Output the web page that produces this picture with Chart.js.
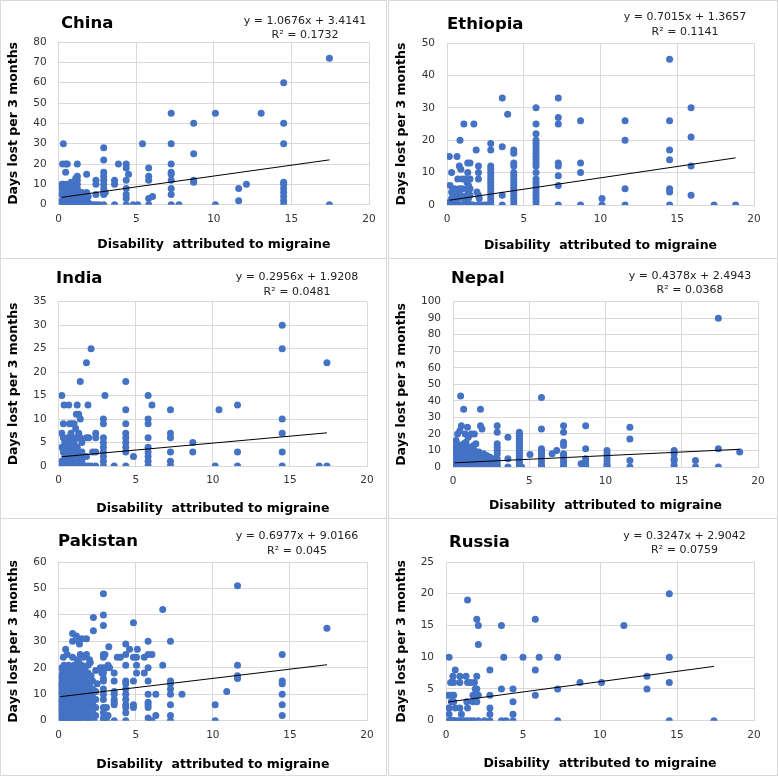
<!DOCTYPE html>
<html>
<head>
<meta charset="utf-8">
<script src="https://cdn.jsdelivr.net/npm/chart.js@4.4.1/dist/chart.umd.min.js"></script>
<style>
  html, body { margin: 0; padding: 0; background: #fff; }
  #wrap { position: relative; width: 778px; height: 776px; }
  .panel { position: absolute; box-sizing: border-box; border: 1px solid #d9d9d9; background: #fff; }
  .panel canvas { position: absolute; left: 0; top: 0; }
</style>
</head>
<body>
<div id="wrap"></div>
<script>
// ---- data: [disability score, days lost] ----
var china = [
  [0.3,30],[0.25,20],[0.45,20],[0.55,20],[1.2,20],[0.45,16],[1.8,15],
  [0.2,10],[0.3,10],[0.5,10],[0.7,10],[0.9,10],[1.0,10],[1.2,10],[1.2,12],[1.2,14],[1.1,13],[0.8,11],
  [0.2,8],[0.3,7],[0.4,8],[0.5,6],[0.6,8],[0.7,7],[0.8,6],[0.9,8],[1.0,7],[1.1,6],[1.2,8],
  [0.25,9],[0.35,9],[0.45,7],[0.55,9],[0.65,6],[0.75,9],[0.85,7],[0.95,9],[1.05,8],[1.15,9],
  [0.2,5],[0.3,4],[0.4,5],[0.5,3],[0.6,5],[0.7,4],[0.8,3],[0.9,5],[1.0,4],[1.1,3],[1.2,5],[1.3,6],[1.4,5],[1.5,6],[1.6,4],[1.7,5],[1.8,6],[1.9,4],
  [0.25,6],[0.35,3],[0.45,4],[0.55,4],[0.65,3],[0.75,6],[0.85,4],[0.95,3],[1.05,6],[1.15,4],[1.25,3],[1.35,3],[1.45,4],[1.55,2],[1.65,3],[1.75,3],[1.85,4],
  [0.2,2],[0.3,1],[0.4,2],[0.5,1],[0.6,2],[0.7,1],[0.8,2],[0.9,1],[1.0,2],[1.1,1],[1.2,2],[1.3,1],[1.4,2],[1.5,3],[1.6,2],[1.7,1],[1.8,2],[1.9,1],
  [0.2,0],[0.3,0],[0.4,0],[0.5,0],[0.6,0],[0.7,0],[0.8,0],[0.9,0],[1.0,0],[1.1,0],[1.2,0],[1.3,0],[1.4,0],[1.5,0],[1.6,0],[1.7,0],[1.8,0],[1.9,0],[2.1,0],[2.2,0],
  [2.4,12],[2.4,10],[2.4,5],[2.4,0],[2.6,0],
  [2.9,28],[2.9,22],[2.9,16],[2.9,14],[2.9,12],[2.9,10],[2.9,8],[2.9,6],[2.9,5],[2.9,0],[3.0,6],
  [3.6,12],[3.6,10],[3.6,0],[3.85,20],
  [4.35,20],[4.35,18],[4.35,12],[4.35,8],[4.35,5],[4.35,3],[4.35,0],[4.5,15],
  [4.8,0],[5.1,0],[5.4,30],
  [5.8,18],[5.8,14],[5.8,12],[5.8,3],[5.8,0],[6.05,4],
  [7.25,45],[7.25,30],[7.25,20],[7.25,16],[7.25,15],[7.25,12],[7.25,8],[7.25,5],[7.25,0],[7.75,0],
  [8.7,40],[8.7,25],[8.7,12],[8.7,11],
  [10.1,45],[10.1,0],[11.6,8],[11.6,2],[12.1,10],[13.05,45],
  [14.5,60],[14.5,40],[14.5,30],[14.5,11],[14.5,10],[14.5,8],[14.5,6],[14.5,4],[14.5,2],[14.5,0],
  [17.45,72],[17.45,0]
];
var ethiopia = [
  [0.15,15],[0.65,15],[0.3,10],[0.85,20],[1.1,25],[1.75,25],[0.8,12],[0.9,11],[1.35,13],[1.5,13],[1.35,10],[1.9,17],
  [0.2,6],[0.3,4],[0.4,3],[0.5,5],[0.6,4],[0.7,8],[0.8,5],[0.3,2],[0.5,1],[0.7,2],[0.2,1],[0.4,0],[0.2,0],[0.3,0],
  [0.5,0],[0.6,0],[0.7,0],[0.8,0],[0.9,0],[1.0,0],[1.0,8],[1.0,5],[0.9,3],[1.1,2],
  [1.2,8],[1.3,7],[1.4,6],[1.3,5],[1.4,4],[1.3,3],[1.4,2],[1.3,1],[1.2,0],[1.4,0],[1.5,0],[1.6,0],[1.7,0],[1.5,8],[1.5,5],[1.5,3],
  [2.05,12],[2.05,10],[2.05,8],[1.95,4],[2.05,3],[2.1,2],[2.0,0],[2.2,0],[2.4,0],[2.6,0],
  [2.85,19],[2.85,17],[2.85,12],[2.85,11],[2.85,10],[2.85,9],[2.85,8],[2.85,7],[2.85,6],[2.85,5],[2.85,4],[2.85,3],[2.85,2],[2.85,1],[2.85,0],
  [3.6,33],[3.6,18],[3.6,3],[3.6,0],[3.95,28],
  [4.35,17],[4.35,16],[4.35,13],[4.35,12],[4.35,10],[4.35,9],[4.35,8],[4.35,7],[4.35,6],[4.35,5],[4.35,4],[4.35,3],[4.35,2],[4.35,1],[4.35,0],
  [5.8,30],[5.8,25],[5.8,22],[5.8,20],[5.8,19],[5.8,18],[5.8,17],[5.8,16],[5.8,15],[5.8,14],[5.8,13],[5.8,12],[5.8,10],
  [5.8,8],[5.8,7],[5.8,6],[5.8,5],[5.8,4],[5.8,3],[5.8,2],[5.8,1],[5.8,0],
  [7.25,33],[7.25,27],[7.25,25],[7.25,13],[7.25,12],[7.25,9],[7.25,6],[7.25,0],
  [8.7,26],[8.7,13],[8.7,10],[8.7,0],
  [10.1,2],[10.1,0],
  [11.6,26],[11.6,20],[11.6,5],[11.6,0],
  [14.5,45],[14.5,26],[14.5,17],[14.5,14],[14.5,5],[14.5,4],[14.5,0],
  [15.9,30],[15.9,21],[15.9,12],[15.9,3],
  [17.4,0],[18.8,0]
];
var india = [
  [0.2,15],[0.35,13],[0.65,13],[0.3,9],[0.7,9],[0.85,9],[1.0,9],
  [0.2,7],[0.3,6],[0.4,5],[0.5,4],[0.6,6],[0.7,5],[0.8,7],[0.9,6],[1.0,5],[1.1,8],[1.2,6],[1.3,7],[1.4,6],[1.5,5],
  [0.2,4],[0.3,3],[0.4,2],[0.5,3],[0.6,4],[0.7,2],[0.8,3],[0.9,4],[1.0,3],[1.1,2],[1.2,4],[1.3,3],[1.4,2],[1.5,3],
  [0.2,1],[0.3,0],[0.4,1],[0.5,0],[0.6,1],[0.7,0],[0.8,1],[0.9,0],[1.0,1],[1.1,0],[1.2,1],[1.3,0],[1.4,0],[1.5,1],[0.2,0],[1.6,0],[1.7,0],
  [1.2,13],[1.15,11],[1.3,11],[1.4,18],[1.4,10],[1.8,22],[2.1,25],[1.9,13],[1.8,6],[1.95,6],[1.8,2],[1.9,0],[2.1,0],[2.2,3],
  [2.4,7],[2.4,6],[2.4,3],[2.4,0],
  [2.9,10],[2.9,9],[2.9,6],[2.9,5],[2.9,4],[2.9,3],[2.9,2],[2.9,1],[2.9,0],[3.0,15],
  [3.6,0],
  [4.35,18],[4.35,12],[4.35,9],[4.35,7],[4.35,6],[4.35,5],[4.35,4],[4.35,3],[4.35,0],[4.85,2],
  [5.8,15],[5.8,10],[5.8,9],[5.8,6],[5.8,4],[5.8,3],[5.8,2],[5.8,1],[5.8,0],[6.05,13],
  [7.25,12],[7.25,7],[7.25,6],[7.25,3],[7.25,1],[7.25,0],
  [8.7,5],[8.7,3],
  [10.15,0],[10.4,12],
  [11.6,13],[11.6,3],[11.6,0],
  [14.5,30],[14.5,25],[14.5,10],[14.5,7],[14.5,3],[14.5,0],
  [16.9,0],[17.4,0],[17.4,22]
];
var nepal = [
  [0.5,43],[0.7,35],[1.8,35],[0.55,25],[1.8,25],[1.9,23],[0.95,24],[0.3,20],[0.45,22],[0.2,16],[0.8,20],[1.0,18],[1.2,20],[1.4,20],[1.5,14],
  [0.1,12],[0.2,10],[0.3,8],[0.4,12],[0.5,6],[0.6,10],[0.7,14],[0.8,8],[0.9,11],[1.0,6],[1.1,9],[1.2,12],[1.3,7],
  [1.4,10],[1.5,8],[1.6,6],[1.7,9],[1.8,7],[1.9,5],[2.0,8],[2.1,6],[2.2,7],[2.3,4],[2.4,6],[2.5,3],[2.6,5],
  [0.15,8],[0.25,14],[0.35,11],[0.45,9],[0.55,13],[0.65,7],[0.75,11],[0.85,15],[0.95,8],[1.05,12],[1.15,6],[1.25,9],[1.35,13],[1.45,6],
  [0.1,5],[0.2,3],[0.3,4],[0.4,2],[0.5,3],[0.6,1],[0.7,4],[0.8,2],[0.9,3],[1.0,1],[1.1,4],[1.2,2],[1.3,3],
  [1.4,1],[1.5,4],[1.6,2],[1.7,3],[1.8,1],[1.9,2],[2.0,3],[2.1,1],[2.2,2],[2.3,1],[2.4,2],[2.5,1],
  [0.15,6],[0.35,6],[0.55,5],[0.75,7],[0.95,5],[1.15,7],[1.35,5],[1.55,7],
  [0.1,0],[0.2,0],[0.3,0],[0.4,0],[0.5,0],[0.6,0],[0.7,0],[0.8,0],[0.9,0],[1.0,0],[1.1,0],[1.2,0],[1.3,0],
  [1.4,0],[1.5,0],[1.6,0],[1.7,0],[1.8,0],[1.9,0],[2.0,0],[2.1,0],[2.2,0],[2.3,0],[2.4,0],[2.5,0],[2.6,0],
  [2.9,25],[2.9,21],[2.9,14],[2.9,12],[2.9,10],[2.9,8],[2.9,5],[2.9,3],[2.9,1],[2.9,0],
  [3.6,18],[3.6,5],[3.6,0],
  [4.35,21],[4.35,20],[4.35,19],[4.35,18],[4.35,17],[4.35,16],[4.35,15],[4.35,14],[4.35,13],[4.35,12],[4.35,11],
  [4.35,10],[4.35,9],[4.35,8],[4.35,7],[4.35,6],[4.35,5],[4.35,4],[4.35,3],[4.35,2],[4.35,1],[4.35,0],[4.5,0],
  [5.05,7.5],
  [5.8,42],[5.8,23],[5.8,11],[5.8,10],[5.8,9],[5.8,8],[5.8,7],[5.8,6],[5.8,5],[5.8,3],[5.8,1],[5.8,0],
  [6.5,8],[6.8,10],
  [7.25,25],[7.25,21],[7.25,15],[7.25,13],[7.25,8],[7.25,7],[7.25,5],[7.25,3],[7.25,1],[7.25,0],
  [8.4,2],[8.5,2],
  [8.7,25],[8.7,11],[8.7,5],[8.7,3],[8.7,1],[8.7,0],
  [10.1,10],[10.1,8],[10.1,6],[10.1,4],[10.1,2],[10.1,1],[10.1,0],
  [11.6,24],[11.6,17],[11.6,4],[11.6,0],
  [14.5,10],[14.5,8],[14.5,5],[14.5,4],[14.5,1],
  [15.9,4],[15.9,0],
  [17.4,90],[17.4,11],[17.4,0],
  [18.8,9]
];
var pakistan = [
  [0.1,0],[0.25,0],[0.4,0],[0.55,0],[0.7,0],[0.85,0],[1.0,0],[1.15,0],[1.3,0],[1.45,0],[1.8,0],[2.0,0],[2.3,0],
  [0.1,2],[0.25,3],[0.4,2],[0.55,3],[0.7,2],[0.85,3],[1.0,2],[1.15,3],[1.3,2],[1.45,3],[1.6,2],[1.8,3],[2.0,2],[2.2,3],[2.4,2],
  [0.15,4],[0.3,4],[0.45,4],[0.6,4],[0.75,4],[0.9,4],[1.05,4],[1.2,4],[1.35,4],[1.5,4],[1.7,4],
  [0.1,5],[0.25,6],[0.4,5],[0.55,6],[0.7,5],[0.85,6],[1.0,5],[1.15,6],[1.3,5],[1.45,6],[1.6,5],[1.8,6],[2.0,5],[2.2,6],[2.4,5],
  [0.15,7],[0.3,7],[0.45,7],[0.6,7],[0.75,7],[0.9,7],[1.05,7],[1.2,7],[1.35,7],[1.5,7],[1.9,7],
  [0.1,8],[0.25,9],[0.4,8],[0.55,9],[0.7,8],[0.85,9],[1.0,8],[1.15,9],[1.3,8],[1.45,9],[1.6,8],[1.8,9],[2.0,8],[2.2,9],[2.4,8],
  [0.15,10],[0.3,10],[0.45,10],[0.6,10],[0.75,10],[0.9,10],[1.05,10],[1.2,10],[1.35,10],[1.5,10],[2.1,10],
  [0.1,11],[0.25,12],[0.4,11],[0.55,12],[0.7,11],[0.85,12],[1.0,11],[1.15,12],[1.3,11],[1.45,12],[1.6,11],[1.8,12],[2.0,11],[2.2,12],[2.4,11],
  [0.15,13],[0.3,13],[0.45,13],[0.6,13],[0.75,13],[0.9,13],[1.05,13],[1.2,13],[1.35,13],[1.7,13],
  [0.1,14],[0.25,15],[0.4,14],[0.55,15],[0.7,14],[0.85,15],[1.0,14],[1.15,15],[1.3,14],[1.45,15],[1.6,14],[1.8,15],[2.0,14],[2.2,15],
  [0.2,16],[0.35,16],[0.5,16],[0.65,16],[0.8,16],[0.95,16],[1.1,16],[1.25,16],[1.4,16],
  [0.15,17],[0.3,18],[0.45,17],[0.6,18],[0.75,17],[0.9,18],[1.05,17],[1.2,18],[1.35,17],[1.5,18],[1.7,17],[1.9,18],[2.1,17],
  [0.25,19],[0.4,19],[0.55,19],[0.7,19],[0.85,19],[1.0,19],[1.2,19],[1.4,19],
  [0.2,20],[0.35,21],[0.5,20],[0.65,21],[0.8,20],[1.0,21],[1.15,20],[1.3,22],[1.5,21],[1.7,20],[1.9,21],[2.05,22],
  [0.3,24],[0.45,27],[0.55,25],[0.9,24],[1.2,23],[1.4,25],[1.6,24],[1.8,25],[2.0,23],
  [0.9,33],[0.9,30],[1.15,32],[1.3,30],[1.35,29],[1.5,31],[1.8,31],[2.25,39],[2.25,34],[2.4,19],[2.5,14],
  [2.9,48],[2.9,40],[2.9,36],[2.9,25],[2.9,24],[2.9,20],[2.9,18],[2.9,16],[2.9,15],[2.9,12],[2.9,10],[2.9,8],[2.9,5],[2.9,3],[2.9,1],[2.9,0],
  [2.7,20],[2.8,18],[3.0,25],[3.1,20],[3.2,21],[3.3,20],[3.1,5],[3.1,0],[3.2,2],[3.25,28],
  [3.6,18],[3.6,15],[3.6,11],[3.6,10],[3.6,8],[3.6,7],[3.6,6],[3.6,0],
  [3.8,24],[4.0,24],
  [4.35,29],[4.35,25],[4.35,21],[4.35,15],[4.35,14],[4.35,12],[4.35,10],[4.35,8],[4.35,6],[4.35,5],[4.35,3],[4.35,0],
  [4.6,27],[4.85,37],[4.85,24],[4.85,15],[4.85,6],[4.85,5],[5.05,24],[5.05,21],[5.05,18],[5.1,27],[5.55,24],[5.55,18],
  [5.8,30],[5.8,25],[5.8,20],[5.8,15],[5.8,10],[5.8,7],[5.8,6],[5.8,5],[5.8,1],
  [6.05,25],[6.05,0],[6.3,10],[6.3,2],[6.75,42],[6.75,21],
  [7.25,30],[7.25,15],[7.25,14],[7.25,12],[7.25,10],[7.25,6],[7.25,2],[7.25,0],
  [8.0,10],
  [10.15,6],[10.15,0],[10.9,11],
  [11.6,51],[11.6,21],[11.6,17],[11.6,16],
  [14.5,25],[14.5,15],[14.5,14],[14.5,10],[14.5,6],[14.5,2],
  [17.4,35]
];
var russia = [
  [0.2,10],[0.15,4],[0.35,4],[0.5,4],[0.3,6],[0.5,6],[0.45,7],[0.6,8],[0.2,2],[0.2,1],[0.35,3],[0.5,3],[0.6,2],
  [0.9,7],[0.9,6],[0.9,2],[1.0,1],[1.4,19],[1.3,7],[1.4,6],[1.6,6],[1.85,6],[1.35,3],[1.4,2],[1.75,4],[1.9,4],[1.75,3],
  [2.0,16],[2.1,15],[2.1,12],[2.0,7],[1.9,5],[2.0,5],[2.0,4],[2.1,4],[2.0,3],
  [0.2,0],[0.3,0],[0.4,0],[0.5,0],[0.6,0],[0.8,0],[1.0,0],[1.2,0],[1.4,0],[1.6,0],[1.8,0],[2.1,0],[2.5,0],
  [2.85,8],[2.85,4],[2.85,2],[2.85,1],[2.85,0],
  [3.6,15],[3.6,5],[3.6,0],[3.75,10],[3.9,0],
  [4.35,5],[4.35,3],[4.35,1],[4.35,0],
  [5.0,10],[5.8,16],[5.8,8],[5.8,4],[6.05,10],
  [7.25,10],[7.25,5],[7.25,0],
  [8.7,6],[10.1,6],[11.55,15],
  [13.05,7],[13.05,5],
  [14.5,20],[14.5,10],[14.5,6],[14.5,0],
  [17.4,0]
];

var countries = ['China', 'Ethiopia', 'India', 'Nepal', 'Pakistan', 'Russia'];
var series = [china, ethiopia, india, nepal, pakistan, russia];
var slopes = [1.0676, 0.7015, 0.2956, 0.4378, 0.6977, 0.3247];
var intercepts = [3.4141, 1.3657, 1.9208, 2.4943, 9.0166, 2.9042];
var rSquared = ['0.1732', '0.1141', '0.0481', '0.0368', '0.045', '0.0759'];
var yMax = [80, 50, 35, 100, 60, 25];
var yStep = [10, 10, 5, 10, 10, 5];
var xTicks = [0, 5, 10, 15, 20];

// ---- layout of the six panels (pixels) ----
var panels = [
  { left: 0,   top: 0,   w: 387, h: 259, area: [57.7, 368, 41, 203.7],  t: [60, 23],   eq: [304, 20, 34],   xtb: 13 },
  { left: 388, top: 0,   w: 390, h: 259, area: [58, 365, 42, 204],      t: [58, 24],   eq: [296, 16, 31],   xtb: 12 },
  { left: 0,   top: 258, w: 387, h: 261, area: [57.7, 366, 42.7, 207],  t: [55, 19.5], eq: [296, 18.5, 33], xtb: 9 },
  { left: 388, top: 258, w: 390, h: 261, area: [64, 369, 42.7, 208],    t: [62, 20],   eq: [301, 17, 31],   xtb: 12 },
  { left: 0,   top: 518, w: 387, h: 258, area: [57.7, 366, 43, 201.7],  t: [57, 22.7], eq: [296, 17, 31.7], xtb: 10 },
  { left: 388, top: 518, w: 390, h: 258, area: [57, 365, 43, 201.7],    t: [60, 23.3], eq: [295.5, 17, 31], xtb: 11 }
];

Chart.defaults.font.family = '"DejaVu Sans", Verdana, sans-serif';

var panelText = {
  id: 'panelText',
  afterDraw: function(chart, args, o) {
    var ctx = chart.ctx;
    ctx.save();
    ctx.fillStyle = '#000';
    ctx.textBaseline = 'middle';
    ctx.textAlign = 'left';
    ctx.font = 'bold 16.5px "DejaVu Sans"';
    ctx.fillText(o.name, o.t[0], o.t[1]);
    ctx.font = '11px "DejaVu Sans"';
    ctx.fillStyle = '#222';
    ctx.textAlign = 'center';
    ctx.fillText(o.eq1, o.eq[0], o.eq[1]);
    ctx.fillText(o.eq2, o.eq[0], o.eq[2]);
    ctx.restore();
  }
};

var wrap = document.getElementById('wrap');

countries.forEach(function(name, i) {
  var p = panels[i];
  var div = document.createElement('div');
  div.className = 'panel';
  div.style.left = p.left + 'px';
  div.style.top = p.top + 'px';
  div.style.width = p.w + 'px';
  div.style.height = p.h + 'px';
  var cw = p.w - 2, ch = p.h - 2;
  var canvas = document.createElement('canvas');
  canvas.width = cw;
  canvas.height = ch;
  canvas.style.width = cw + 'px';
  canvas.style.height = ch + 'px';
  div.appendChild(canvas);
  wrap.appendChild(div);

  var pts = series[i].map(function(d) { return { x: d[0], y: d[1] }; });
  var xs = series[i].map(function(d) { return d[0]; });
  var x0 = Math.min.apply(null, xs), x1 = Math.max.apply(null, xs);
  var trend = [
    { x: x0, y: slopes[i] * x0 + intercepts[i] },
    { x: x1, y: slopes[i] * x1 + intercepts[i] }
  ];
  var a = p.area;

  new Chart(canvas, {
    type: 'scatter',
    data: {
      datasets: [
        { type: 'line', data: trend, borderColor: '#000', borderWidth: 1, pointRadius: 0, fill: false, order: 0 },
        { data: pts, backgroundColor: '#4472C4', borderWidth: 0, pointRadius: 3.5, order: 1 }
      ]
    },
    options: {
      responsive: false,
      animation: false,
      devicePixelRatio: 1,
      layout: { padding: { left: 0, top: a[2], right: cw - a[1], bottom: 0 } },
      plugins: {
        legend: { display: false },
        tooltip: { enabled: false },
        panelText: {
          name: name, t: p.t, eq: p.eq,
          eq1: 'y = ' + slopes[i] + 'x + ' + intercepts[i],
          eq2: 'R\u00b2 = ' + rSquared[i]
        }
      },
      scales: {
        x: {
          type: 'linear', min: 0, max: 20,
          afterBuildTicks: function(s) { s.ticks = xTicks.map(function(v) { return { value: v }; }); },
          grid: { color: '#d9d9d9', drawTicks: false },
          border: { color: '#d9d9d9' },
          ticks: { color: '#333', font: { size: 10.5 }, padding: 8 },
          title: { display: true, text: 'Disability  attributed to migraine', color: '#000',
                   font: { size: 12.5, weight: 'bold' }, padding: { top: 0, bottom: p.xtb - 7.5 } },
          afterFit: function(s) { s.height = ch - a[3]; }
        },
        y: {
          min: 0, max: yMax[i],
          grid: { color: '#d9d9d9', drawTicks: false },
          border: { color: '#d9d9d9' },
          ticks: { stepSize: yStep[i], color: '#333', font: { size: 10.5 }, padding: 12 },
          title: { display: true, text: 'Days lost per 3 months', color: '#000',
                   font: { size: 12.5, weight: 'bold' }, padding: { top: 5, bottom: 0 } },
          afterFit: function(s) { s.width = a[0]; }
        }
      }
    },
    plugins: [panelText]
  });
});
</script>
</body>
</html>
